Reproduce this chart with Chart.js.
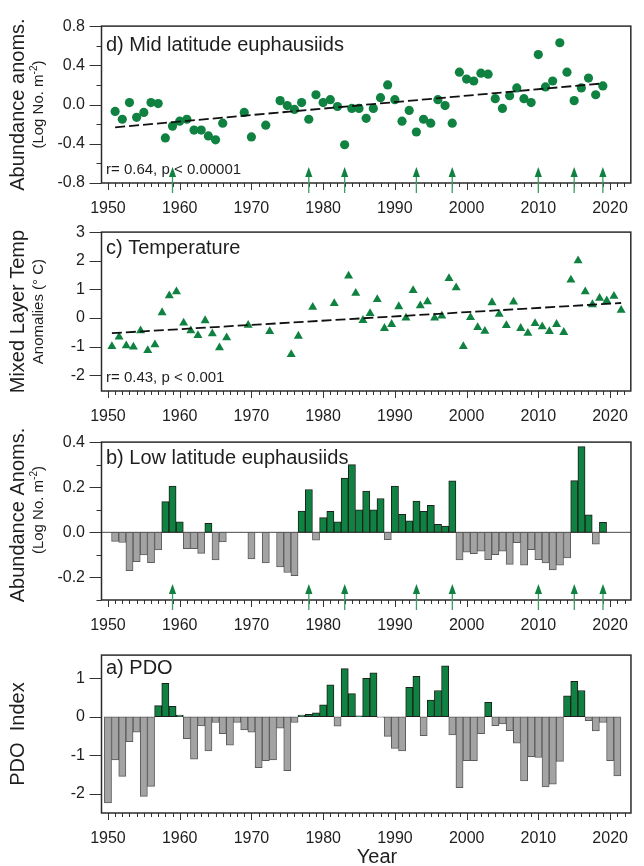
<!DOCTYPE html>
<html>
<head>
<meta charset="utf-8">
<title>Euphausiids, mixed layer temperature and PDO</title>
<script src="https://cdn.jsdelivr.net/npm/chart.js@4.4.1/dist/chart.umd.min.js"></script>
<style>
  body { margin: 0; background: #fff; }
  #page { position: relative; width: 644px; height: 866px; overflow: hidden; }
  #page canvas { position: absolute; left: 0; }
</style>
</head>
<body>
<div id="page">
  <canvas id="chart-d" width="644" height="222" style="top:0px"></canvas>
  <canvas id="chart-c" width="644" height="224" style="top:206px"></canvas>
  <canvas id="chart-b" width="644" height="223" style="top:416px"></canvas>
  <canvas id="chart-a" width="644" height="237" style="top:629px"></canvas>
</div>
<script>
// ---- data ----
const decades = [1950, 1960, 1970, 1980, 1990, 2000, 2010, 2020];
const arrowYears = [1959, 1978, 1983, 1993, 1998, 2010, 2015, 2019];

// d) mid latitude euphausiids (log No. m-2 anomalies)
const midYears = [
  1951, 1952, 1953, 1954, 1955, 1956, 1957, 1958, 1959, 1960,
  1961, 1962, 1963, 1964, 1965, 1966, 1969, 1970, 1972, 1974,
  1975, 1976, 1977, 1978, 1979, 1980, 1981, 1982, 1983, 1984,
  1985, 1986, 1987, 1988, 1989, 1990, 1991, 1992, 1993, 1994,
  1995, 1996, 1997, 1998, 1999, 2000, 2001, 2002, 2003, 2004,
  2005, 2006, 2007, 2008, 2009, 2010, 2011, 2012, 2013, 2014,
  2015, 2016, 2017, 2018, 2019
];
const midAnoms = [
  -0.07, -0.15, 0.02, -0.13, -0.08, 0.02, 0.01, -0.34, -0.22, -0.17,
  -0.15, -0.26, -0.26, -0.32, -0.36, -0.19, -0.08, -0.33, -0.21, 0.04,
  -0.01, -0.05, 0.02, -0.15, 0.10, 0.02, 0.05, -0.02, -0.41, -0.04,
  -0.04, -0.14, -0.04, 0.07, 0.20, 0.05, -0.17, -0.06, -0.28, -0.15,
  -0.19, 0.05, -0.01, -0.19, 0.33, 0.26, 0.24, 0.32, 0.31, 0.06,
  -0.04, 0.09, 0.17, 0.06, 0.02, 0.51, 0.18, 0.24, 0.63, 0.33,
  0.04, 0.17, 0.27, 0.10, 0.19
];

// c) mixed layer temperature anomalies (deg C), plotted mid-year
const tempYears = [
  1950, 1951, 1952, 1953, 1954, 1955, 1956, 1957, 1958, 1959,
  1960, 1961, 1962, 1963, 1964, 1965, 1966, 1969, 1972, 1975,
  1976, 1978, 1981, 1983, 1984, 1985, 1986, 1987, 1988, 1989,
  1990, 1991, 1992, 1993, 1994, 1995, 1996, 1997, 1998, 1999,
  2000, 2001, 2002, 2003, 2004, 2005, 2006, 2007, 2008, 2009,
  2010, 2011, 2012, 2013, 2014, 2015, 2016, 2017, 2018, 2019,
  2020, 2021
];
const tempAnoms = [
  -0.99, -0.66, -0.97, -1.01, -0.44, -1.13, -0.93, 0.19, 0.78, 0.92,
  -0.17, -0.44, -0.61, -0.09, -0.55, -1.04, -0.69, -0.25, -0.47, -1.27,
  -0.63, 0.38, 0.51, 1.47, 0.87, -0.08, 0.16, 0.65, -0.36, -0.22,
  0.40, 0.00, 0.96, 0.43, 0.57, 0.00, 0.07, 1.38, 1.06, -0.99,
  0.02, -0.33, -0.46, 0.54, 0.13, -0.26, 0.56, -0.36, -0.53, -0.19,
  -0.30, -0.47, -0.22, -0.50, 1.33, 2.00, 0.92, 0.47, 0.69, 0.60,
  0.76, 0.27
];
const tempShift = 0.55;

// b) low latitude euphausiids
const lowYears = [
  1951, 1952, 1953, 1954, 1955, 1956, 1957, 1958, 1959, 1960,
  1961, 1962, 1963, 1964, 1965, 1966, 1970, 1972, 1974, 1975,
  1976, 1977, 1978, 1979, 1980, 1981, 1982, 1983, 1984, 1985,
  1986, 1987, 1988, 1989, 1990, 1991, 1992, 1993, 1994, 1995,
  1996, 1997, 1998, 1999, 2000, 2001, 2002, 2003, 2004, 2005,
  2006, 2007, 2008, 2009, 2010, 2011, 2012, 2013, 2014, 2015,
  2016, 2017, 2018, 2019
];
const lowAnoms = [
  -0.040, -0.045, -0.170, -0.130, -0.100, -0.135, -0.078, 0.136, 0.205, 0.047,
  -0.072, -0.072, -0.093, 0.040, -0.122, -0.043, -0.118, -0.136, -0.153, -0.178,
  -0.192, 0.094, 0.190, -0.035, 0.065, 0.093, 0.046, 0.240, 0.300, 0.100,
  0.183, 0.100, 0.150, -0.032, 0.205, 0.080, 0.051, 0.139, 0.093, 0.120,
  0.035, 0.028, 0.228, -0.122, -0.088, -0.095, -0.083, -0.121, -0.099, -0.083,
  -0.142, -0.046, -0.146, -0.077, -0.121, -0.136, -0.167, -0.146, -0.113, 0.229,
  0.380, 0.078, -0.053, 0.044
];

// a) PDO index
const pdoYears = [
  1950, 1951, 1952, 1953, 1954, 1955, 1956, 1957, 1958, 1959,
  1960, 1961, 1962, 1963, 1964, 1965, 1966, 1967, 1968, 1969,
  1970, 1971, 1972, 1973, 1974, 1975, 1976, 1977, 1978, 1979,
  1980, 1981, 1982, 1983, 1984, 1985, 1986, 1987, 1988, 1989,
  1990, 1991, 1992, 1993, 1994, 1995, 1996, 1997, 1998, 1999,
  2000, 2001, 2002, 2003, 2004, 2005, 2006, 2007, 2008, 2009,
  2010, 2011, 2012, 2013, 2014, 2015, 2016, 2017, 2018, 2019,
  2020, 2021
];
const pdoIndex = [
  -2.24, -1.12, -1.55, -0.65, -0.40, -2.07, -1.81, 0.29, 0.87, 0.27,
  0.04, -0.57, -1.10, -0.24, -0.89, -0.15, -0.44, -0.74, -0.15, -0.34,
  -0.40, -1.32, -1.14, -1.12, -0.30, -1.40, -0.15, 0.04, 0.065, 0.10,
  0.31, 0.83, -0.245, 1.25, 0.60, 0.02, 1.00, 1.14, -0.02, -0.51,
  -0.82, -0.89, 0.76, 1.05, -0.49, 0.43, 0.68, 1.32, -0.47, -1.84,
  -1.14, -1.14, -0.44, 0.375, -0.23, -0.19, -0.36, -0.69, -1.67, -1.04,
  -1.06, -1.82, -1.75, -1.16, 0.54, 0.92, 0.68, -0.10, -0.37, -0.15,
  -1.14, -1.54
];

// y axis ticks per panel
const midTicks = [-0.8, -0.4, 0, 0.4, 0.8];
const midMinor = [-0.6, -0.2, 0.2, 0.6];
const tempTicks = [-2, -1, 0, 1, 2, 3];
const lowTicks = [-0.2, 0, 0.2, 0.4];
const lowMinor = [-0.3, -0.1, 0.1, 0.3];
const pdoTicks = [-2, -1, 0, 1];

const GREEN = '#0f8140';
const GRAY = '#a3a3a3';
const FONT = '"Liberation Sans", Arial, sans-serif';

Chart.defaults.font.family = FONT;
Chart.defaults.color = '#1e1e1e';

// least squares line through a series, from first to last x
function fitLine(xs, ys) {
  const n = xs.length;
  const mx = xs.reduce((s, v) => s + v, 0) / n;
  const my = ys.reduce((s, v) => s + v, 0) / n;
  let sxy = 0, sxx = 0;
  for (let i = 0; i < n; i++) {
    sxy += (xs[i] - mx) * (ys[i] - my);
    sxx += (xs[i] - mx) * (xs[i] - mx);
  }
  const b = sxy / sxx;
  const a = my - b * mx;
  return [{ x: xs[0], y: a + b * xs[0] }, { x: xs[n - 1], y: a + b * xs[n - 1] }];
}

// frame, tick marks, arrows and the text around each panel
const decor = {
  id: 'decor',
  beforeDatasetsDraw(chart, args, o) {
    if (!o.zeroLine) return;
    const { ctx, chartArea: a, scales: { y } } = chart;
    const py = y.getPixelForValue(0);
    ctx.save();
    ctx.strokeStyle = '#4a4a4a';
    ctx.lineWidth = 1;
    ctx.beginPath();
    ctx.moveTo(a.left, py);
    ctx.lineTo(a.right, py);
    ctx.stroke();
    ctx.restore();
  },
  afterDraw(chart, args, o) {
    const { ctx, chartArea: a, scales: { x, y } } = chart;
    ctx.save();

    // year ticks (decades longer)
    ctx.strokeStyle = '#333';
    ctx.lineWidth = 1;
    ctx.beginPath();
    for (let yr = 1950; yr <= 2022; yr++) {
      const px = Math.round(x.getPixelForValue(yr)) + 0.5;
      ctx.moveTo(px, a.bottom);
      ctx.lineTo(px, a.bottom + (yr % 10 === 0 ? 7 : 4));
    }
    (o.major || []).forEach(v => {
      const py = Math.round(y.getPixelForValue(v)) + 0.5;
      ctx.moveTo(a.left - 12, py);
      ctx.lineTo(a.left, py);
    });
    (o.minor || []).forEach(v => {
      const py = Math.round(y.getPixelForValue(v)) + 0.5;
      ctx.moveTo(a.left - 5, py);
      ctx.lineTo(a.left, py);
    });
    ctx.stroke();

    // plot frame
    ctx.strokeStyle = '#2b2b2b';
    ctx.lineWidth = 1.5;
    ctx.strokeRect(a.left, a.top, a.right - a.left, a.bottom - a.top);

    // event arrows
    if (o.arrows) {
      arrowYears.forEach(yr => {
        const px = x.getPixelForValue(yr);
        ctx.strokeStyle = '#3c9c63';
        ctx.lineWidth = 1.3;
        ctx.beginPath();
        ctx.moveTo(px, a.bottom + 10);
        ctx.lineTo(px, a.bottom - 8);
        ctx.stroke();
        ctx.fillStyle = GREEN;
        ctx.beginPath();
        ctx.moveTo(px, a.bottom - 16);
        ctx.lineTo(px - 3.6, a.bottom - 6);
        ctx.lineTo(px + 3.6, a.bottom - 6);
        ctx.closePath();
        ctx.fill();
      });
    }

    // panel title and statistics
    ctx.fillStyle = '#1e1e1e';
    ctx.textAlign = 'left';
    ctx.textBaseline = 'middle';
    ctx.font = '20px ' + FONT;
    ctx.fillText(o.title, a.left + 4.5, a.top + o.titleDy);
    if (o.stat) {
      ctx.font = '15px ' + FONT;
      ctx.fillText(o.stat, a.left + 4.5, a.bottom - o.statDy);
    }

    // rotated y titles
    const cy = (a.top + a.bottom) / 2;
    ctx.save();
    ctx.translate(18, cy + (o.yTitleDy || 0));
    ctx.rotate(-Math.PI / 2);
    ctx.textAlign = 'center';
    ctx.font = '20px ' + FONT;
    ctx.fillText(o.yTitle, 0, 0);
    ctx.restore();

    if (o.ySub) {
      ctx.save();
      ctx.translate(39, cy + (o.ySubDy || 0));
      ctx.rotate(-Math.PI / 2);
      ctx.textAlign = 'left';
      const big = '15px ' + FONT, small = '10px ' + FONT;
      const parts = o.ySub;
      ctx.font = big;
      const w1 = ctx.measureText(parts[0]).width;
      const w3 = parts[2] ? ctx.measureText(parts[2]).width : 0;
      ctx.font = small;
      const w2 = parts[1] ? ctx.measureText(parts[1]).width : 0;
      let tx = -(w1 + w2 + w3) / 2;
      ctx.font = big;
      ctx.fillText(parts[0], tx, 0);
      tx += w1;
      if (parts[1]) {
        ctx.font = small;
        ctx.fillText(parts[1], tx, -5);
        tx += w2;
      }
      if (parts[2]) {
        ctx.font = big;
        ctx.fillText(parts[2], tx, 0);
      }
      ctx.restore();
    }

    if (o.xLabel) {
      ctx.textAlign = 'center';
      ctx.font = '20px ' + FONT;
      ctx.fillText(o.xLabel.text, o.xLabel.x, o.xLabel.y);
    }
    ctx.restore();
  }
};
Chart.register(decor);

function panelOptions(p) {
  return {
    responsive: false,
    animation: false,
    events: [],
    layout: { padding: { top: p.padTop, right: 1, bottom: 0, left: 0 } },
    plugins: {
      legend: { display: false },
      tooltip: { enabled: false },
      decor: p.decor
    },
    scales: {
      x: {
        type: 'linear',
        min: 1949.1,
        max: 2022.9,
        offset: false,
        grid: { display: false, drawTicks: false },
        border: { display: false },
        ticks: {
          padding: 16, autoSkip: false, maxRotation: 0,
          font: { size: 16 }, callback: v => String(v)
        },
        afterBuildTicks: s => { s.ticks = decades.map(v => ({ value: v })); },
        afterFit: s => { s.height = p.xAxisH; }
      },
      y: {
        type: 'linear',
        min: p.yMin,
        max: p.yMax,
        grid: { display: false, drawTicks: false },
        border: { display: false },
        ticks: {
          padding: 16.5, autoSkip: false,
          font: { size: 16 }, callback: p.fmt
        },
        afterBuildTicks: s => { s.ticks = p.ticks.map(v => ({ value: v })); },
        afterFit: s => { s.width = 101.5; }
      }
    }
  };
}

const oneDecimal = v => v.toFixed(1);
const integer = v => String(Math.round(v));

// d) mid latitude euphausiids
new Chart(document.getElementById('chart-d'), {
  type: 'scatter',
  data: {
    datasets: [
      {
        data: fitLine(midYears, midAnoms),
        showLine: true, borderColor: '#111', borderWidth: 1.8,
        borderDash: [10, 4], pointRadius: 0, order: 0
      },
      {
        data: midYears.map((yr, i) => ({ x: yr, y: midAnoms[i] })),
        pointRadius: 4.6, pointBackgroundColor: GREEN, pointBorderWidth: 0, order: 1
      }
    ]
  },
  options: panelOptions({
    padTop: 16, xAxisH: 39, yMin: -0.8, yMax: 0.8, ticks: midTicks, fmt: oneDecimal,
    decor: {
      title: 'd) Mid latitude euphausiids', titleDy: 19,
      stat: 'r= 0.64, p < 0.00001', statDy: 13,
      major: midTicks, minor: midMinor, arrows: true,
      yTitle: 'Abundance anoms.', ySub: ['(Log No. m', '-2', ')']
    }
  })
});

// c) temperature
new Chart(document.getElementById('chart-c'), {
  type: 'scatter',
  data: {
    datasets: [
      {
        data: fitLine(tempYears.map(yr => yr + tempShift), tempAnoms),
        showLine: true, borderColor: '#111', borderWidth: 1.8,
        borderDash: [10, 4], pointRadius: 0, order: 0
      },
      {
        data: tempYears.map((yr, i) => ({ x: yr + tempShift, y: tempAnoms[i] })),
        pointStyle: 'triangle', pointRadius: 5.2,
        pointBackgroundColor: GREEN, pointBorderWidth: 0, order: 1
      }
    ]
  },
  options: panelOptions({
    padTop: 17, xAxisH: 39, yMin: -2.55, yMax: 3, ticks: tempTicks, fmt: integer,
    decor: {
      title: 'c) Temperature', titleDy: 16,
      stat: 'r= 0.43, p < 0.001', statDy: 13,
      major: tempTicks,
      yTitle: 'Mixed Layer Temp', ySub: ['Anomalies (\u00B0 C)']
    }
  })
});

// b) low latitude euphausiids
new Chart(document.getElementById('chart-b'), {
  type: 'bar',
  data: {
    datasets: [{
      data: lowYears.map((yr, i) => ({ x: yr, y: lowAnoms[i] })),
      backgroundColor: lowAnoms.map(v => (v >= 0 ? GREEN : GRAY)),
      borderColor: lowAnoms.map(v => (v >= 0 ? '#1f1f1f' : '#5c5c5c')),
      borderWidth: 1, borderSkipped: false,
      barPercentage: 1, categoryPercentage: 1
    }]
  },
  options: panelOptions({
    padTop: 16, xAxisH: 39, yMin: -0.3, yMax: 0.4, ticks: lowTicks, fmt: oneDecimal,
    decor: {
      title: 'b) Low latitude euphausiids', titleDy: 16,
      major: lowTicks, minor: lowMinor, arrows: true, zeroLine: true,
      yTitle: 'Abundance Anoms.', yTitleDy: -6,
      ySub: ['(Log No. m', '-2', ')'], ySubDy: -11
    }
  })
});

// a) PDO
new Chart(document.getElementById('chart-a'), {
  type: 'bar',
  data: {
    datasets: [{
      data: pdoYears.map((yr, i) => ({ x: yr, y: pdoIndex[i] })),
      backgroundColor: pdoIndex.map(v => (v >= 0 ? GREEN : GRAY)),
      borderColor: pdoIndex.map(v => (v >= 0 ? '#1f1f1f' : '#5c5c5c')),
      borderWidth: 1, borderSkipped: false,
      barPercentage: 1, categoryPercentage: 1
    }]
  },
  options: panelOptions({
    padTop: 17, xAxisH: 53, yMin: -2.5, yMax: 1.6, ticks: pdoTicks, fmt: integer,
    decor: {
      title: 'a) PDO', titleDy: 13.5,
      major: pdoTicks,
      yTitle: 'PDO  Index', yTitleDy: 0,
      xLabel: { text: 'Year', x: 377, y: 228 }
    }
  })
});
</script>
</body>
</html>
